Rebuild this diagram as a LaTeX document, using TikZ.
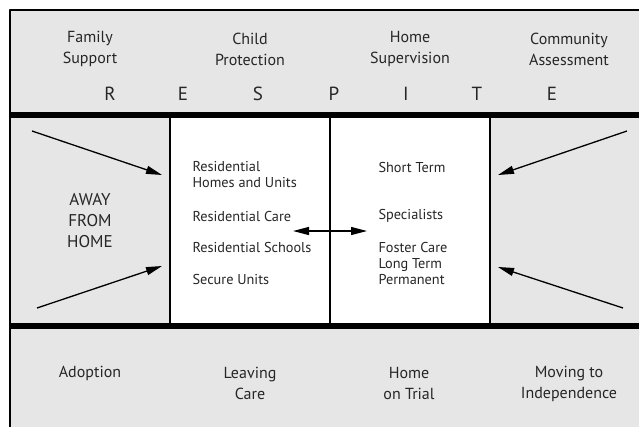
\documentclass[tikz,border=0pt]{standalone}
\usepackage{fontspec}
\setmainfont{PT Sans}
\usetikzlibrary{arrows.meta}
\definecolor{panel}{HTML}{E6E6E6}

\begin{document}
\begin{tikzpicture}[x=1pt,y=-1pt,line join=round,>={Triangle[length=16pt,width=8pt]}]
  \tikzset{every node/.style={font=\fontsize{14.3}{16}\selectfont,text=black!85},
    head/.style={align=center,font=\fontsize{16}{21}\selectfont},
    letter/.style={font=\fontsize{19}{19}\selectfont},
    item/.style={anchor=west,align=left},
    away/.style={align=center,font=\fontsize{17}{21}\selectfont},
    feed/.style={->,line width=1.3pt}}
  \useasboundingbox (0,0) rectangle (639,426);
  \clip (0,0) rectangle (639,426);
  \draw[fill=panel,line width=1.5pt] (10,10) rectangle (650,450);
  \fill[white] (170,118) rectangle (490,323);
  \draw[line width=6pt] (10,115)--(650,115) (10,326)--(650,326);
  \draw[line width=1.3pt] (170,118)--(170,323) (330,118)--(330,323) (490,118)--(490,323);
  % top row
  \foreach \x/\txt [count=\i] in {90/{Family\\Support},250/{Child\\Protection},410/{Home\\Supervision},569/{Community\\Assessment}}
    \node[head] (top\i) at (\x,49) {\txt};
  \foreach \x/\l [count=\i] in {110/R,183/E,258/S,334/P,406/I,477/T,552/E}
    \node[letter] (ltr\i) at (\x,94) {\l};
  % middle
  \node[away] (away) at (90,221) {AWAY\\FROM\\HOME};
  \node[item] (resA) at (189,175) {Residential\\Homes and Units};
  \node[item] (resB) at (189,216) {Residential Care};
  \node[item] (resC) at (189,247) {Residential Schools};
  \node[item] (resD) at (189,279) {Secure Units};
  \node[item] (fosA) at (375,167) {Short Term};
  \node[item] (fosB) at (375,216) {Specialists};
  \node[item] (fosC) at (375,263) {Foster Care\\Long Term\\Permanent};
  \coordinate (inTL) at (32,131);   \coordinate (tipTL) at (162,175);
  \coordinate (inBL) at (37,308);   \coordinate (tipBL) at (162,266);
  \coordinate (inTR) at (627,131);  \coordinate (tipTR) at (498,175);
  \coordinate (inBR) at (623,308);  \coordinate (tipBR) at (498,267);
  \coordinate (swL) at (293,231);   \coordinate (swR) at (367,231);
  \draw[feed] (inTL)--(tipTL);
  \draw[feed] (inBL)--(tipBL);
  \draw[feed] (inTR)--(tipTR);
  \draw[feed] (inBR)--(tipBR);
  \draw[feed,<->] (swL)--(swR);
  % bottom row
  \node[head] (bot1) at (90,373) {Adoption};
  \foreach \x/\txt [count=\i from 2] in {250/{Leaving\\Care},409/{Home\\on Trial},569/{Moving to\\Independence}}
    \node[head] (bot\i) at (\x,383.5) {\txt};
\end{tikzpicture}
\end{document}
